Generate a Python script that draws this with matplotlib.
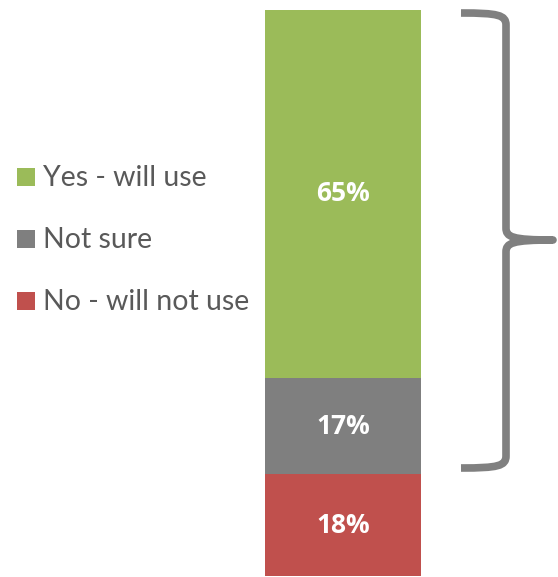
import matplotlib
matplotlib.use("Agg")
import matplotlib.pyplot as plt
from matplotlib.path import Path
from matplotlib.patches import PathPatch, Rectangle

categories = ["No - will not use", "Not sure", "Yes - will use"]
values = [18, 17, 65]
colors = ["#C0504D", "#7F7F7F", "#9BBB59"]
legend_order = ["Yes - will use", "Not sure", "No - will not use"]

plt.rcParams['font.family'] = ['Lato', 'DejaVu Sans']

W, H = 558, 577
fig = plt.figure(figsize=(W / 100, H / 100), dpi=100)

# bar axes
ax = fig.add_axes([265 / W, 1 / H, 156 / W, 566 / H])
bottom = 0
for cat, v, c in zip(categories, values, colors):
    ax.bar(0, v, bottom=bottom, width=1.0, color=c, edgecolor='none')
    ax.text(0, bottom + v / 2, f"{v}%", ha='center', va='center',
            color='white', fontsize=19, fontweight='bold',
            family=['Open Sans', 'DejaVu Sans'])
    bottom += v
ax.set_xlim(-0.5, 0.5)
ax.set_ylim(0, 100)
ax.axis('off')

# overlay in pixel coords
ov = fig.add_axes([0, 0, 1, 1])
ov.set_xlim(0, W)
ov.set_ylim(H, 0)
ov.axis('off')

# legend
ys = [177, 239, 301]
cmap = dict(zip(categories, colors))
for lab, y in zip(legend_order, ys):
    ov.add_patch(Rectangle((17, y - 9.5), 18, 18, color=cmap[lab], lw=0))
    ov.text(43, y + 1, lab, ha='left', va='center', color='#595959', fontsize=20.5)

# brace
x0, xv, xt = 461, 506, 553
yt, yb, ym = 13, 468, 240
r = 12
verts = [
    (x0, yt), (xv - 8, yt), (xv, yt + 2), (xv, yt + r),
    (xv, ym - r),
    (xv, ym - 3), (xv + 6, ym), (xt, ym),
    (xv + 6, ym), (xv, ym + 3), (xv, ym + r),
    (xv, yb - r),
    (xv, yb - 2), (xv - 8, yb), (x0, yb),
]
codes = [Path.MOVETO, Path.CURVE4, Path.CURVE4, Path.CURVE4,
         Path.LINETO,
         Path.CURVE4, Path.CURVE4, Path.CURVE4,
         Path.CURVE4, Path.CURVE4, Path.CURVE4,
         Path.LINETO,
         Path.CURVE4, Path.CURVE4, Path.CURVE4]
ov.add_patch(PathPatch(Path(verts, codes), fill=False, edgecolor='#808080',
                       lw=5.5, capstyle='butt', joinstyle='round'))

fig.savefig("out.png", dpi=100)
